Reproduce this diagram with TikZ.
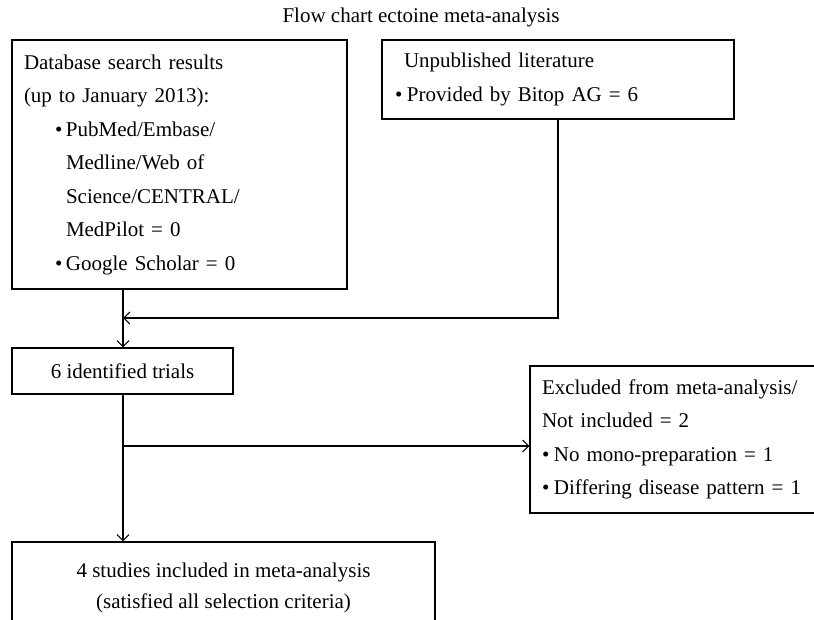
\documentclass[tikz,border=0pt]{standalone}
\usepackage{fontspec}
\setmainfont{Liberation Serif}
\usetikzlibrary{arrows.meta, positioning}

\begin{document}
\begin{tikzpicture}[
    x=1pt, y=-1pt,
    % Styles for each node type
    sourcebox/.style={rectangle, draw=black, line width=1.3pt, align=left, inner xsep=12pt, inner ysep=0pt, font=\fontsize{21}{33.5}\selectfont},
    resultbox/.style={rectangle, draw=black, line width=1.3pt, align=center, inner sep=0pt, font=\fontsize{21}{31}\selectfont},
    arrow/.style={line width=1.1pt, -{Straight Barb[length=6pt, width=12pt]}, black}
]
\clip (0,0) rectangle (814,620);

% Title
\node[font=\fontsize{21}{24}\selectfont] (title) at (421,17) {Flow chart ectoine meta-analysis};

% Sources (top row)
\node[sourcebox, text width=311pt, minimum width=335pt, minimum height=249pt] (db) at (179.5,164.5)
    {Database search results\\
     (up to January 2013):\\
     \hspace*{31pt}\makebox[11pt][l]{\textbullet}PubMed/Embase/\\
     \hspace*{42pt}Medline/Web of\\
     \hspace*{42pt}Science/CENTRAL/\\
     \hspace*{42pt}MedPilot = 0\\
     \hspace*{31pt}\makebox[11pt][l]{\textbullet}Google Scholar = 0};
\node[sourcebox, text width=326pt, minimum width=352pt, minimum height=79pt] (unpub) at (558,79.5)
    {\hspace*{9pt}Unpublished literature\\
     \makebox[12pt][l]{\textbullet}Provided by Bitop AG = 6};

% Identified trials
\node[resultbox, minimum width=221pt, minimum height=46pt] (trials) at (122.5,371) {6 identified trials};

% Excluded trials (runs off the right edge)
\node[sourcebox, text width=276pt, minimum width=300pt, minimum height=147pt] (excl) at (680,439.5)
    {Excluded from meta-analysis/\\
     Not included = 2\\
     \makebox[12pt][l]{\textbullet}No mono-preparation = 1\\
     \makebox[12pt][l]{\textbullet}Differing disease pattern = 1};

% Included studies (runs off the bottom edge)
\node[resultbox, minimum width=423pt, minimum height=91pt] (incl) at (223.5,587.5)
    {4 studies included in meta-analysis\\(satisfied all selection criteria)};

% Connectors
\coordinate (merge) at (123,318);
\coordinate (split) at (123,446);
\draw[arrow] (db.south -| merge) -- (trials.north -| merge);
\draw[arrow] (unpub.south) |- (merge);
\draw[arrow] (trials.south -| split) -- (incl.north -| split);
\draw[arrow] (split) -- (split -| excl.west);

\end{tikzpicture}
\end{document}
